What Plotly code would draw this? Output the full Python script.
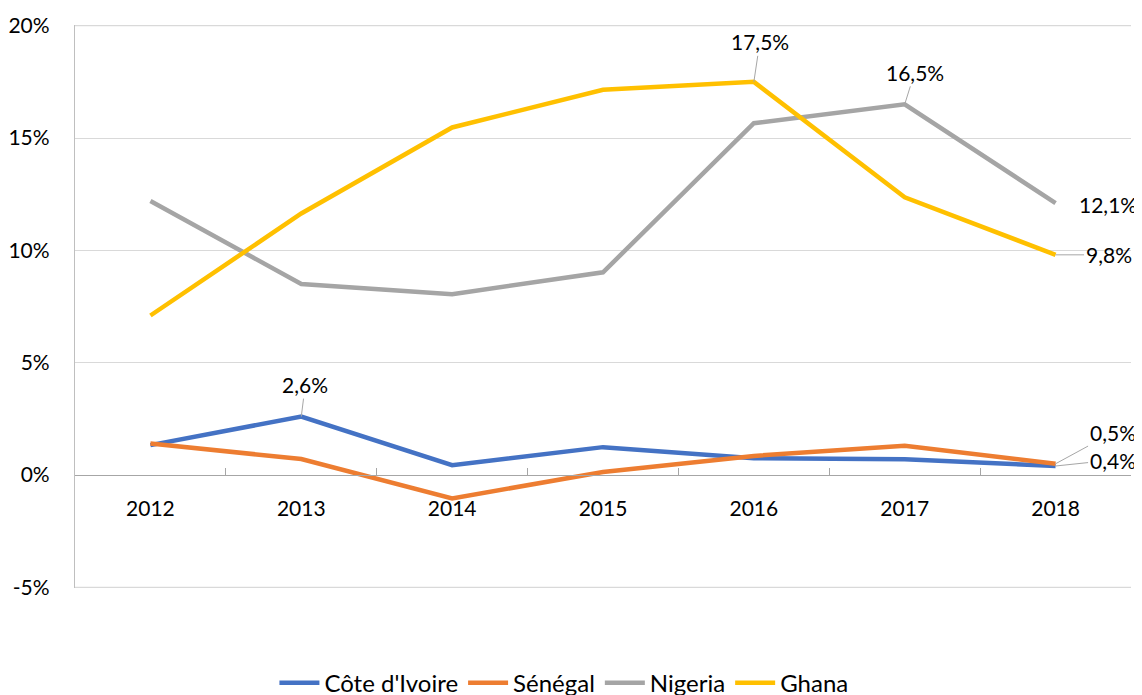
import plotly.graph_objects as go

years = ["2012", "2013", "2014", "2015", "2016", "2017", "2018"]
cote_ivoire = [1.33, 2.6, 0.44, 1.24, 0.75, 0.7, 0.4]
senegal = [1.4, 0.71, -1.04, 0.13, 0.85, 1.3, 0.5]
nigeria = [12.2, 8.5, 8.05, 9.02, 15.66, 16.5, 12.1]
ghana = [7.1, 11.64, 15.47, 17.15, 17.5, 12.36, 9.8]

y_ticks = [-5, 0, 5, 10, 15, 20]
y_ticktext = ["-5%", "0%", "5%", "10%", "15%", "20%"]

series = [
    ("Côte d'Ivoire", cote_ivoire, "#4472C4"),
    ("Sénégal", senegal, "#ED7D31"),
    ("Nigeria", nigeria, "#A5A5A5"),
    ("Ghana", ghana, "#FFC000"),
]

FONT = "Lato, 'Open Sans', sans-serif"

fig = go.Figure()
for name, vals, color in series:
    fig.add_trace(go.Scatter(
        x=years, y=vals, name=name, mode="lines",
        line=dict(color=color, width=4.5),
        hoverinfo="skip",
    ))

# grid lines at the range edges (plotly hides these by default)
for yv in (y_ticks[0], y_ticks[-1]):
    fig.add_shape(type="line", xref="paper", x0=0, x1=1, yref="y", y0=yv, y1=yv,
                  line=dict(color="#D9D9D9", width=1.3), layer="below")

def fmt(v):
    return f"{v:.1f}".replace(".", ",") + "%"

# data labels (index, series values, ax, ay, arrow)
labels = [
    (1, cote_ivoire, 4, -32, True),
    (4, ghana, 6, -40, True),
    (5, nigeria, 10, -32, True),
    (6, nigeria, 52, 1, False),
    (6, ghana, 53, 0, True),
    (6, senegal, 57, -31, True),
    (6, cote_ivoire, 57, -6, True),
]
for i, vals, ax, ay, arrow in labels:
    fig.add_annotation(
        x=i, y=vals[i], xref="x", yref="y", text=fmt(vals[i]),
        showarrow=True, ax=ax, ay=ay, arrowhead=0, arrowwidth=1,
        arrowcolor="#A6A6A6" if arrow else "rgba(0,0,0,0)",
        font=dict(family=FONT, size=21, color="#000000"),
    )

fig.update_layout(
    width=1142, height=695,
    margin=dict(l=67, r=19, t=17, b=115, autoexpand=False),
    paper_bgcolor="white", plot_bgcolor="white",
    font=dict(family=FONT, size=21, color="#000000"),
    showlegend=True,
    legend=dict(
        orientation="h", x=0.463, xanchor="center", y=-0.169, yanchor="middle",
        font=dict(family=FONT, size=24, color="#000000"),
        itemwidth=40, tracegroupgap=0,
    ),
    xaxis=dict(
        type="category", range=[-0.5, 6.5],
        anchor="free", position=0.2, automargin=False,
        showline=True, linecolor="#A6A6A6", linewidth=1.3,
        ticks="inside", tickson="boundaries", ticklen=7, tickcolor="#A6A6A6",
        showgrid=False, zeroline=False,
        ticklabelstandoff=14,
        tickfont=dict(family=FONT, size=21, color="#000000"),
    ),
    yaxis=dict(
        range=[-5.03, 20.03], tickvals=y_ticks, ticktext=y_ticktext,
        automargin=False,
        showline=True, linecolor="#BFBFBF", linewidth=1.3,
        showgrid=True, gridcolor="#D9D9D9", gridwidth=1.3,
        zeroline=False, ticks="", ticklabelstandoff=20,
        tickfont=dict(family=FONT, size=21, color="#000000"),
    ),
)

fig.write_html("out.html")
